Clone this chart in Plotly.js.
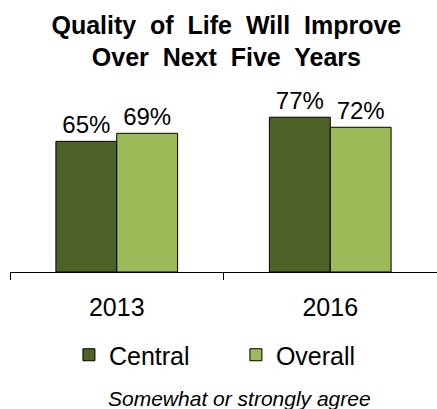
<!DOCTYPE html>
<html>
<head>
<meta charset="utf-8">
<script src="https://cdn.plot.ly/plotly-3.0.1.min.js"></script>
<style>html,body{margin:0;padding:0;background:#fff;}</style>
</head>
<body>
<div id="chart" style="width:437px;height:409px;"></div>
<script>
var years = ['2013', '2016'];
var centralValues = [65, 77];
var overallValues = [69, 72];
var seriesNames = ['Central', 'Overall'];
var titleText = 'Quality&nbsp; of&nbsp; Life&nbsp; Will&nbsp; Improve<br>Over&nbsp; Next&nbsp; Five&nbsp; Years';
var noteText = 'Somewhat or strongly agree';

var FONT = '"Liberation Sans", Arial, sans-serif';

var traces = [
  {
    type: 'bar', name: seriesNames[0], x: years, y: centralValues,
    marker: {color: '#4F6228', line: {color: '#000000', width: 1}},
    text: centralValues.map(function(v){return v + '%';}),
    textposition: 'outside', cliponaxis: false,
    textfont: {family: FONT, size: 24, color: '#000000'},
    hoverinfo: 'none'
  },
  {
    type: 'bar', name: seriesNames[1], x: years, y: overallValues,
    marker: {color: '#9BBB59', line: {color: '#000000', width: 1}},
    text: overallValues.map(function(v){return v + '%';}),
    textposition: 'outside', cliponaxis: false,
    textfont: {family: FONT, size: 24, color: '#000000'},
    hoverinfo: 'none'
  }
];

var layout = {
  width: 437, height: 409,
  margin: {l: 10, r: 0, t: 71, b: 137, pad: 0},
  paper_bgcolor: '#ffffff', plot_bgcolor: '#ffffff',
  font: {family: FONT, color: '#000000'},
  barmode: 'group', bargap: 0.43, bargroupgap: 0,
  title: {
    text: titleText,
    font: {family: FONT, size: 25, color: '#000000', weight: 'bold'},
    x: 0.518, xanchor: 'center', xref: 'container',
    y: 0.917, yanchor: 'top', yref: 'container'
  },
  xaxis: {
    type: 'category', showline: true, linecolor: '#000000', linewidth: 1,
    ticks: 'outside', tickson: 'boundaries', ticklen: 7, tickcolor: '#000000', tickwidth: 1,
    ticklabelstandoff: 13,
    tickfont: {family: FONT, size: 25, color: '#000000'},
    showgrid: false, zeroline: false, fixedrange: true
  },
  yaxis: {
    range: [0, 100], visible: false, showgrid: false, zeroline: false, fixedrange: true
  },
  showlegend: true,
  legend: {
    orientation: 'h', x: 0.138, xanchor: 'left', y: -0.413, yanchor: 'middle',
    font: {family: FONT, size: 25, color: '#000000'},
    entrywidth: 122, entrywidthmode: 'pixels', traceorder: 'normal'
  },
  annotations: [
    {
      text: noteText, showarrow: false, xref: 'paper', yref: 'paper',
      x: 0.5386, xanchor: 'center', y: -0.63, yanchor: 'middle',
      font: {family: FONT, size: 21, color: '#000000', style: 'italic'}
    }
  ]
};

Plotly.newPlot('chart', traces, layout, {displayModeBar: false, staticPlot: true});
</script>
</body>
</html>
